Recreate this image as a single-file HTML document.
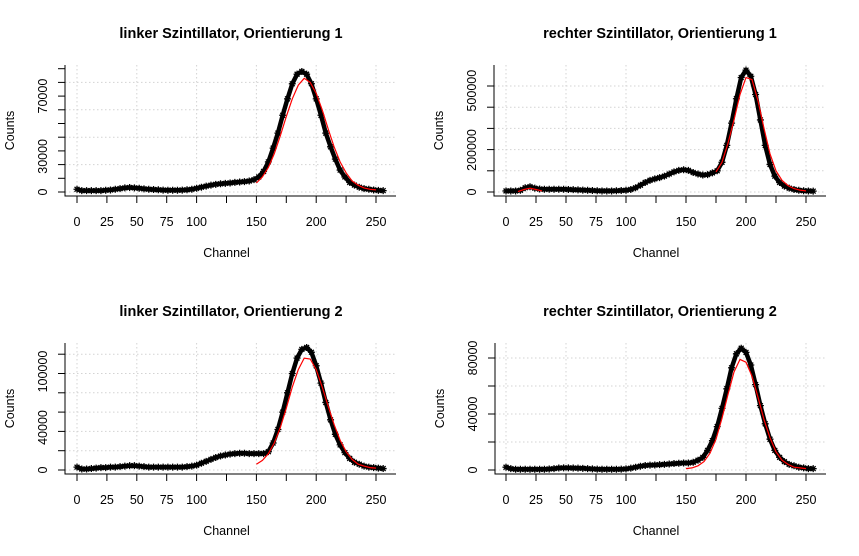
<!DOCTYPE html>
<html><head><meta charset="utf-8"><style>
body{margin:0;background:#fff}
svg{display:block;font-family:"Liberation Sans",sans-serif}
</style></head><body>
<svg id="chart" width="859" height="556" viewBox="0 0 859 556" xmlns="http://www.w3.org/2000/svg"></svg>
<script>
// channels sampled every 4 (0..256)
const channels = [0,4,8,12,16,20,24,28,32,36,40,44,48,52,56,60,64,68,72,76,80,84,88,92,96,100,104,108,112,116,120,124,128,132,136,140,144,148,152,156,160,164,168,172,176,180,184,188,192,196,200,204,208,212,216,220,224,228,232,236,240,244,248,252,256];
// counts in thousands
const countsTL = [2,1,1,1,1,1,1.3,1.5,2,2.5,3,3.3,3,2.7,2.3,2,1.8,1.6,1.4,1.3,1.3,1.3,1.4,1.6,2,2.7,3.5,4.3,5,5.6,6,6.3,6.6,7,7.3,7.6,8,9,11,15,22,32,43,56,68,79,86,88,86,79,68,56,43,33,24,16,11,7,5,3.5,2.5,2,1.5,1.2,1];
const countsTR = [5,5,5,8,20,25,18,14,13,13,13,13,13,12,11,10,9,8,7,6,5,5,5,6,7,8,12,20,32,45,55,62,68,75,85,95,102,105,102,92,85,80,82,90,100,140,220,325,440,540,575,546,460,340,220,130,75,45,28,18,12,8,6,5,4];
const countsBL = [3,1,1,1.5,2,2.5,2.5,3,3,3.5,4,4.5,4.5,4,3.5,3,3,3,3,3,3,3,3,3.5,4,5,7,9,11,13,14.5,15.5,16.5,17,17.3,17.3,17,17,17,17,19,28,42,60,80,100,116,125,127,122,108,90,70,52,37,26,18,12,8,6,4,3,2.5,2,1.5];
const countsBR = [2,1,0.5,0.5,0.5,0.5,0.5,0.5,0.5,0.7,1,1.4,1.5,1.5,1.4,1.3,1.2,1,0.8,0.6,0.5,0.5,0.5,0.5,0.6,0.8,1.3,2,2.7,3.2,3.5,3.6,3.8,4,4.3,4.6,4.8,5,5,5.5,7,9,14,21,31,44,58,73,83,87,84,75,61,46,33,22,14,9,6,4,3,2,1.5,1,1];
// fit curves
const fitCh = [150,155,160,165,170,175,180,185,190,195,200,205,210,215,220,225,230,235,240,245,250];
const fitTL = [6.6,11,18,28,41,55,68,78,83,80,72,60,46,33,22,14,8,5,3,2,1.5];
const fitBL = [6,10,17,28,44,64,86,104,116,115,104,86,66,47,31,19,11,6,4,2.5,2];
const fitBR = [1,1.5,3,6,12,22,37,54,70,79,77,67,52,36,23,13,7,4,2,1.5,1];
const fitTRbumpCh = [10,15,20,25,30];
const fitTRbump = [2,12,18,12,5];
const fitTRCh = [175,180,185,190,195,200,205,210,215,220,225,230,235,240,245,250];
const fitTR = [95,140,230,340,460,540,530,430,300,180,100,55,30,16,9,5];
// axis ticks
const xTicks = [0,25,50,75,100,125,150,175,200,225,250];
const xTickLabels = ["0","25","50","75","100","","150","","200","","250"];
const xGrid = [0,50,100,150,200,250];
const yTicksTL = [0,10,20,30,40,50,60,70,80,90];
const yGridTL = [0,20,40,60,80];
const yLabTL = [[0,"0"],[26,"30000"],[70,"70000"]];
const yTicksTR = [0,100,200,300,400,500];
const yLabTR = [[0,"0"],[198,"200000"],[478,"500000"]];
const yTicksBL = [0,20,40,60,80,100,120];
const yLabBL = [[0,"0"],[44,"40000"],[102,"100000"]];
const yTicksBR = [0,20,40,60,80];
const yLabBR = [[0,"0"],[40,"40000"],[80,"80000"]];

const NS="http://www.w3.org/2000/svg";
const svg=document.getElementById('chart');
function mk(tag,attrs,parent){const e=document.createElementNS(NS,tag);for(const k in attrs)e.setAttribute(k,attrs[k]);(parent||svg).appendChild(e);return e;}

function panel(o){
  const g=mk('g',{});
  
  
  const X=c=>o.x0+c*o.kx, Y=v=>o.y0-v*o.ky;
  const L=o.axisX, B=o.axisY, T=o.top, R=o.right;
  const grid=mk('g',{stroke:'#d3d3d3','stroke-dasharray':'1.5,2.5','stroke-width':1},g);
  
  
  xGrid.forEach(c=>mk('line',{x1:X(c),x2:X(c),y1:T,y2:B},grid));
  o.yGrid.forEach(v=>mk('line',{x1:L,x2:R,y1:Y(v),y2:Y(v)},grid));
  const ax=mk('path',{d:`M${L},${T}V${B}H${R}`,fill:'none',stroke:'#000','stroke-width':1},g);
  
  
  const xt=mk('g',{},g);
  
  
  xTicks.forEach((c,i)=>{
    mk('line',{x1:X(c),x2:X(c),y1:B,y2:B+7,stroke:'#000'},xt);
    if(xTickLabels[i]){const t=mk('text',{x:X(c),y:B+30,'text-anchor':'middle','font-size':12.5},xt);t.textContent=xTickLabels[i];}
  });
  const yt=mk('g',{},g);
  
  
  o.yTicks.forEach(v=>mk('line',{x1:L,x2:L-7,y1:Y(v),y2:Y(v),stroke:'#000'},yt));
  o.yLab.forEach(([v,s])=>{const yy=Y(v);const t=mk('text',{x:0,y:0,'text-anchor':'middle','font-size':12.5,transform:`translate(${L-18},${yy}) rotate(-90)`},yt);t.textContent=s;});
  const ti=mk('text',{x:o.tx,y:o.ty,'text-anchor':'middle','font-size':14.5,'font-weight':'bold'},g);ti.textContent=o.title;
  
  
  const xl=mk('text',{x:X(125),y:B+61,'text-anchor':'middle','font-size':12.5},g);xl.textContent='Channel';
  
  
  const yl=mk('text',{x:0,y:0,'text-anchor':'middle','font-size':12.5,transform:`translate(${L-51},${(T+B)/2}) rotate(-90)`},g);yl.textContent='Counts';
  
  
  const pts=channels.map((c,i)=>X(c).toFixed(1)+','+Y(o.data[i]).toFixed(1)).join(' ');
  const dl=mk('polyline',{points:pts,fill:'none',stroke:'#000','stroke-width':4.5,'stroke-linejoin':'round'},g);
  
  
  const mg=mk('g',{stroke:'#000','stroke-width':1.3},g);
  
  
  channels.forEach((c,i)=>{const x=X(c),y=Y(o.data[i]),r=3.5;
    mk('path',{d:`M${x-r},${y}H${x+r}M${x},${y-r}V${y+r}M${x-r*0.7},${y-r*0.7}L${x+r*0.7},${y+r*0.7}M${x-r*0.7},${y+r*0.7}L${x+r*0.7},${y-r*0.7}`},mg);});
  o.fits.forEach(([ch,vals])=>{
    const fp=ch.map((c,i)=>X(c).toFixed(1)+','+Y(vals[i]).toFixed(1)).join(' ');
    const f=mk('polyline',{points:fp,fill:'none',stroke:'#ff0000','stroke-width':1.2},g);
    
    
  });
}
panel({name:'panel-left-orientation-1',title:'linker Szintillator, Orientierung 1',tx:231,ty:38,x0:77,kx:1.196,y0:192,ky:1.37,axisX:65,axisY:196,top:65,right:396,yTicks:yTicksTL,yGrid:yGridTL,yLab:yLabTL,data:countsTL,fits:[[fitCh,fitTL]]});
panel({name:'panel-right-orientation-1',title:'rechter Szintillator, Orientierung 1',tx:660,ty:38,x0:506,kx:1.2,y0:192,ky:0.212,axisX:494,axisY:196,top:65,right:826,yTicks:yTicksTR,yGrid:yTicksTR,yLab:yLabTR,data:countsTR,fits:[[fitTRbumpCh,fitTRbump],[fitTRCh,fitTR]]});
panel({name:'panel-left-orientation-2',title:'linker Szintillator, Orientierung 2',tx:231,ty:316,x0:77,kx:1.196,y0:470,ky:0.965,axisX:65,axisY:474,top:343,right:396,yTicks:yTicksBL,yGrid:yTicksBL,yLab:yLabBL,data:countsBL,fits:[[fitCh,fitBL]]});
panel({name:'panel-right-orientation-2',title:'rechter Szintillator, Orientierung 2',tx:660,ty:316,x0:506,kx:1.2,y0:470,ky:1.4,axisX:495,axisY:474,top:343,right:826,yTicks:yTicksBR,yGrid:yTicksBR,yLab:yLabBR,data:countsBR,fits:[[fitCh,fitBR]]});
</script>
</body></html>
